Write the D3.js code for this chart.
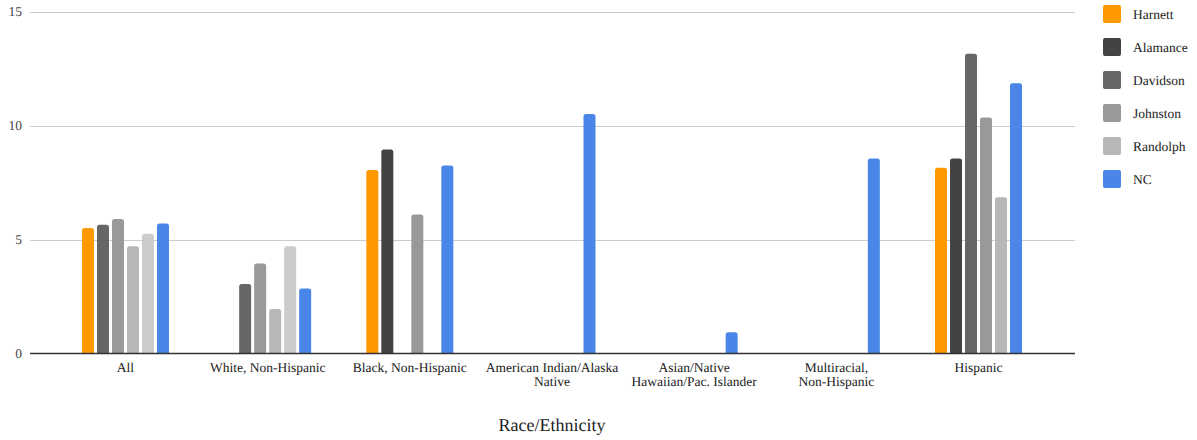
<!DOCTYPE html>
<html>
<head>
<meta charset="utf-8">
<script src="https://cdn.jsdelivr.net/npm/d3@7"></script>
<style>
  html, body { margin: 0; padding: 0; background: #fff; }
  svg { display: block; }
  svg text { font-family: "Liberation Serif", "Times New Roman", Times, serif; text-rendering: geometricPrecision; }
</style>
</head>
<body>
<svg id="chart" width="1197" height="440"></svg>
<script>
// ---- data ----
const categories = [
  ["All"],
  ["White, Non-Hispanic"],
  ["Black, Non-Hispanic"],
  ["American Indian/Alaska", "Native"],
  ["Asian/Native", "Hawaiian/Pac. Islander"],
  ["Multiracial,", "Non-Hispanic"],
  ["Hispanic"]
];
const seriesNames = ["Harnett", "Alamance", "Davidson", "Johnston", "Randolph", "NC"];
const harnett  = [5.5,  null, 8.05, null, null, null, 8.15];
const alamance = [5.65, 3.05, 8.95, null, null, null, 8.55];
const davidson = [5.9,  3.95, null, null, null, null, 13.15];
const johnston = [4.7,  1.95, 6.1,  null, null, null, 10.35];
const randolph = [5.25, 4.7,  null, null, null, null, 6.85];
const nc       = [5.7,  2.85, 8.25, 10.5, 0.93, 8.55, 11.85];
const seriesValues = [harnett, alamance, davidson, johnston, randolph, nc];
const yTicks = [0, 5, 10, 15];
const xTitle = "Race/Ethnicity";

// ---- styles ----
const FONT = "'Liberation Serif', 'Times New Roman', Times, serif";
const seriesColors = ["#ff9900", "#434343", "#666666", "#999999", "#b7b7b7", "#4a86e8"];
// per-point colour overrides seen in the chart (category index -> series colours)
const pointColors = {
  0: ["#ff9900", "#666666", "#999999", "#b7b7b7", "#cccccc", "#4a86e8"],
  1: ["#ff9900", "#666666", "#999999", "#b7b7b7", "#cccccc", "#4a86e8"]
};

const svg = d3.select("#chart");
const catIdx = categories.map((d, i) => i);

const x = d3.scaleBand().domain(catIdx).range([54.4, 1049.6]).padding(0);
const inner = d3.scaleBand().domain(d3.range(seriesNames.length)).range([0, 90]).paddingInner(0.2).paddingOuter(0.1);
const y = d3.scaleLinear().domain([0, 15]).range([353.5, 11.5]);

const plotLeft = 30, plotRight = 1075;

// gridlines
svg.append("g").selectAll("line").data(yTicks.filter(t => t !== 0)).join("line")
  .attr("x1", plotLeft).attr("x2", plotRight)
  .attr("y1", d => Math.round(y(d)) + 0.5).attr("y2", d => Math.round(y(d)) + 0.5)
  .attr("stroke", "#cccccc").attr("stroke-width", 1);

// y tick labels
svg.append("g").selectAll("text").data(yTicks).join("text")
  .attr("font-family", FONT)
  .attr("x", 22).attr("y", d => y(d)).attr("dy", "0.35em")
  .attr("text-anchor", "end").attr("font-size", 13.5).attr("fill", "#444")
  .text(d => d);

// bars
const bars = [];
seriesValues.forEach((vals, s) => {
  vals.forEach((v, c) => {
    if (v != null) bars.push({ s, c, v });
  });
});
const bw = 12;
function barPath(d) {
  const cx = x(d.c) + x.bandwidth() / 2 - 45 + inner(d.s) + inner.bandwidth() / 2;
  const x0 = cx - bw / 2, x1 = cx + bw / 2;
  const yt = y(d.v), yb = y(0);
  const r = Math.min(2.5, (yb - yt));
  return `M${x0},${yb} L${x0},${yt + r} Q${x0},${yt} ${x0 + r},${yt} L${x1 - r},${yt} Q${x1},${yt} ${x1},${yt + r} L${x1},${yb} Z`;
}
svg.append("g").selectAll("path").data(bars).join("path")
  .attr("d", barPath)
  .attr("fill", d => (pointColors[d.c] ? pointColors[d.c][d.s] : seriesColors[d.s]));

// baseline
svg.append("line")
  .attr("x1", plotLeft).attr("x2", plotRight)
  .attr("y1", y(0)).attr("y2", y(0))
  .attr("stroke", "#333333").attr("stroke-width", 1.3);

// category labels
const xl = svg.append("g").selectAll("text").data(catIdx).join("text")
  .attr("font-family", FONT)
  .attr("x", d => x(d) + x.bandwidth() / 2)
  .attr("y", 372)
  .attr("text-anchor", "middle").attr("font-size", 13.5).attr("fill", "#222");
xl.each(function (d) {
  const t = d3.select(this);
  categories[d].forEach((line, i) => {
    t.append("tspan").attr("x", x(d) + x.bandwidth() / 2).attr("dy", i === 0 ? 0 : 14).text(line);
  });
});

// axis title
svg.append("text")
  .attr("font-family", FONT)
  .attr("x", (54.4 + 1049.6) / 2).attr("y", 431)
  .attr("text-anchor", "middle").attr("font-size", 18).attr("fill", "#222")
  .text(xTitle);

// legend
const lg = svg.append("g").selectAll("g").data(seriesNames).join("g")
  .attr("transform", (d, i) => `translate(1103, ${5 + i * 33})`);
lg.append("rect").attr("width", 18).attr("height", 18).attr("rx", 2)
  .attr("fill", (d, i) => seriesColors[i]);
lg.append("text").attr("font-family", FONT).attr("x", 30).attr("y", 9).attr("dy", "0.35em")
  .attr("font-size", 13.5).attr("fill", "#222").text(d => d);
</script>
</body>
</html>
